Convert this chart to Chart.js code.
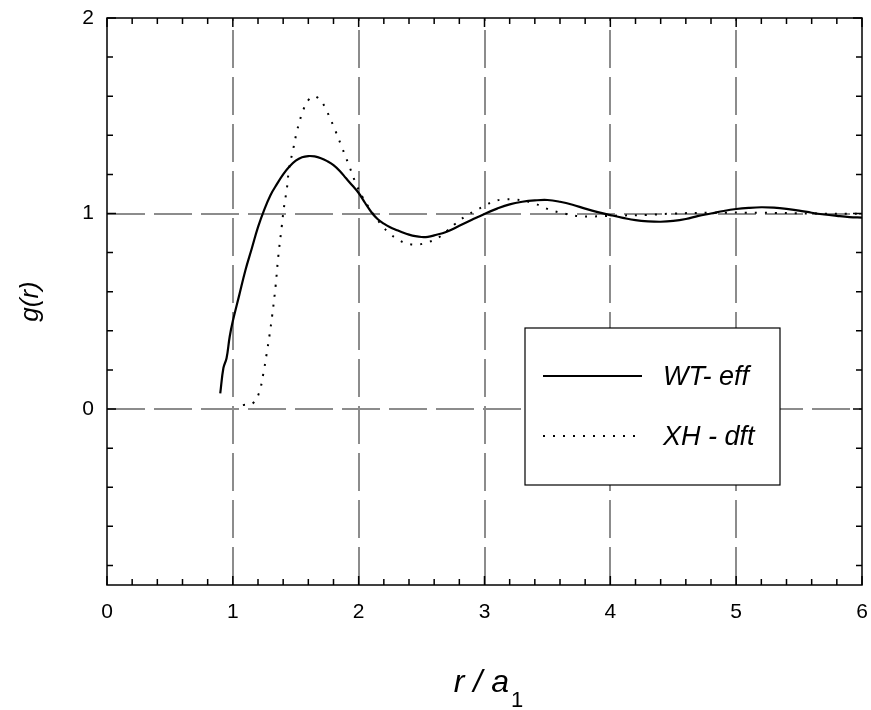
<!DOCTYPE html>
<html>
<head>
<meta charset="utf-8">
<title>g(r)</title>
<script src="https://cdn.jsdelivr.net/npm/chart.js@4.4.0/dist/chart.umd.min.js"></script>
<style>
  html, body { margin: 0; padding: 0; background: #fff; overflow: hidden; }
  canvas { display: block; }
</style>
</head>
<body>
<canvas id="myChart" width="871" height="710"></canvas>
<script>
// values (r / a1 , g(r))
const wtR = [0.90, 0.925, 0.95, 0.975, 1.00, 1.05, 1.10, 1.15, 1.20, 1.25, 1.30, 1.35, 1.40, 1.45, 1.50, 1.55, 1.60, 1.65, 1.70, 1.75, 1.80, 1.85, 1.90, 1.95, 2.00, 2.05, 2.10, 2.15, 2.20, 2.25, 2.30, 2.35, 2.40, 2.45, 2.50, 2.55, 2.60, 2.70, 2.80, 2.90, 3.00, 3.10, 3.20, 3.30, 3.40, 3.50, 3.60, 3.70, 3.80, 3.90, 4.00, 4.10, 4.20, 4.30, 4.40, 4.50, 4.60, 4.70, 4.80, 4.90, 5.00, 5.10, 5.20, 5.30, 5.40, 5.50, 5.60, 5.70, 5.80, 5.90, 6.00];
const wtG = [0.08, 0.21, 0.26, 0.37, 0.45, 0.58, 0.71, 0.82, 0.93, 1.02, 1.095, 1.15, 1.20, 1.24, 1.27, 1.288, 1.294, 1.292, 1.283, 1.268, 1.248, 1.218, 1.18, 1.143, 1.105, 1.055, 1.008, 0.972, 0.948, 0.93, 0.916, 0.903, 0.892, 0.884, 0.88, 0.881, 0.888, 0.907, 0.937, 0.968, 0.998, 1.025, 1.047, 1.06, 1.067, 1.069, 1.06, 1.045, 1.025, 1.007, 0.992, 0.978, 0.966, 0.96, 0.958, 0.962, 0.972, 0.988, 1.0, 1.013, 1.023, 1.029, 1.032, 1.03, 1.024, 1.015, 1.004, 0.995, 0.988, 0.982, 0.979];

const xhR = [1.08, 1.16, 1.207, 1.242, 1.268, 1.292, 1.313, 1.34, 1.361, 1.388, 1.406, 1.43, 1.447, 1.48, 1.513, 1.56, 1.60, 1.65, 1.70, 1.73, 1.80, 1.863, 1.924, 1.98, 2.03, 2.118, 2.176, 2.242, 2.32, 2.397, 2.473, 2.55, 2.63, 2.70, 2.772, 2.851, 2.925, 3.005, 3.079, 3.158, 3.238, 3.317, 3.397, 3.474, 3.548, 3.627, 3.707, 3.786, 3.86, 3.94, 4.09, 4.30, 4.50, 4.80, 5.20, 5.60, 6.00];
const xhG = [0.02, 0.03, 0.08, 0.18, 0.28, 0.38, 0.48, 0.63, 0.78, 0.93, 1.03, 1.13, 1.23, 1.33, 1.43, 1.53, 1.58, 1.60, 1.575, 1.546, 1.447, 1.345, 1.245, 1.15, 1.085, 0.995, 0.946, 0.90, 0.864, 0.844, 0.842, 0.853, 0.875, 0.91, 0.95, 0.987, 1.014, 1.04, 1.064, 1.072, 1.072, 1.065, 1.052, 1.03, 1.013, 1.001, 0.99, 0.985, 0.985, 0.987, 0.99, 0.993, 1.0, 1.004, 1.004, 1.0, 0.998];

const seriesNames = ['WT- eff', 'XH - dft'];
const xTicks = [0, 1, 2, 3, 4, 5, 6];
const yTicks = [0, 1, 2];
const xGrid = [1, 2, 3, 4, 5];
const yGrid = [0, 1];
const minorStep = 0.2;

function toPoints(rs, gs) {
  return rs.map((r, i) => ({ x: r, y: gs[i] }));
}

// keep tick labels from pushing the plot area in
function noLabelPadding(s) {
  s.paddingLeft = 0;
  s.paddingRight = 0;
  s.paddingTop = 0;
  s.paddingBottom = 0;
}

const decor = {
  id: 'decor',
  beforeDatasetsDraw(chart) {
    const { ctx, chartArea: a, scales: { x, y } } = chart;
    ctx.save();
    ctx.strokeStyle = '#8c8c8c';
    ctx.lineWidth = 2;
    ctx.setLineDash([38, 9]);
    xGrid.forEach(v => {
      const px = Math.round(x.getPixelForValue(v));
      ctx.beginPath();
      ctx.moveTo(px, a.bottom);
      ctx.lineTo(px, a.top);
      ctx.stroke();
    });
    yGrid.forEach(v => {
      const py = Math.round(y.getPixelForValue(v));
      ctx.beginPath();
      ctx.moveTo(a.left, py);
      ctx.lineTo(a.right, py);
      ctx.stroke();
    });
    ctx.restore();
  },
  afterDatasetsDraw(chart) {
    const { ctx, chartArea: a, scales: { x, y } } = chart;
    ctx.save();
    ctx.strokeStyle = '#000';
    ctx.lineWidth = 1.5;
    ctx.setLineDash([]);
    ctx.strokeRect(a.left, a.top, a.right - a.left, a.bottom - a.top);

    // inward ticks on all four sides
    ctx.beginPath();
    for (let v = x.min; v <= x.max + 1e-6; v += minorStep) {
      const major = Math.abs(v - Math.round(v)) < 1e-6;
      const len = major ? 9 : 6;
      const px = x.getPixelForValue(v);
      ctx.moveTo(px, a.bottom); ctx.lineTo(px, a.bottom - len);
      ctx.moveTo(px, a.top); ctx.lineTo(px, a.top + len);
    }
    for (let v = -0.8; v <= y.max + 1e-6; v += minorStep) {
      const major = Math.abs(v - Math.round(v)) < 1e-6;
      const len = major ? 9 : 6;
      const py = y.getPixelForValue(v);
      ctx.moveTo(a.left, py); ctx.lineTo(a.left + len, py);
      ctx.moveTo(a.right, py); ctx.lineTo(a.right - len, py);
    }
    ctx.stroke();

    // legend box
    const bx = 525, by = 328, bw = 255, bh = 157;
    ctx.fillStyle = '#fff';
    ctx.fillRect(bx, by, bw, bh);
    ctx.lineWidth = 1.2;
    ctx.strokeRect(bx, by, bw, bh);
    const ds = chart.data.datasets;
    const rows = [376, 436];
    ds.forEach((d, i) => {
      ctx.save();
      ctx.strokeStyle = d.borderColor;
      ctx.lineWidth = d.borderWidth;
      ctx.setLineDash(d.borderDash || []);
      ctx.beginPath();
      ctx.moveTo(543, rows[i]);
      ctx.lineTo(i === 0 ? 642 : 637, rows[i]);
      ctx.stroke();
      ctx.restore();
      ctx.fillStyle = '#000';
      ctx.font = 'italic 27px "Liberation Sans", Arial, sans-serif';
      ctx.textBaseline = 'middle';
      ctx.textAlign = 'left';
      ctx.fillText(d.label, 663, rows[i] + 1);
    });

    // x axis title with subscript
    const main = 'r / a', sub = '1';
    ctx.font = 'italic 32px "Liberation Sans", Arial, sans-serif';
    const w1 = ctx.measureText(main).width;
    ctx.font = '22px "Liberation Sans", Arial, sans-serif';
    const w2 = ctx.measureText(sub).width;
    const cx = (a.left + a.right) / 2 + 4;
    const sx = cx - (w1 + w2 + 2) / 2;
    ctx.fillStyle = '#000';
    ctx.textAlign = 'left';
    ctx.textBaseline = 'alphabetic';
    ctx.font = 'italic 32px "Liberation Sans", Arial, sans-serif';
    ctx.fillText(main, sx, 692);
    ctx.font = '22px "Liberation Sans", Arial, sans-serif';
    ctx.fillText(sub, sx + w1 + 2, 707);
    ctx.restore();
  }
};

const ctx = document.getElementById('myChart').getContext('2d');
const myChart = new Chart(ctx, {
  type: 'line',
  data: {
    datasets: [{
      label: seriesNames[0],
      data: toPoints(wtR, wtG),
      borderColor: '#000',
      borderWidth: 2.2,
      pointRadius: 0,
      fill: false,
      tension: 0.4
    }, {
      label: seriesNames[1],
      data: toPoints(xhR, xhG),
      borderColor: '#000',
      borderWidth: 2,
      borderDash: [2, 8],
      pointRadius: 0,
      fill: false,
      tension: 0.4
    }]
  },
  options: {
    responsive: false,
    animation: false,
    layout: { autoPadding: false, padding: { top: 18, right: 9, left: 0, bottom: 0 } },
    plugins: {
      legend: { display: false },
      tooltip: { enabled: false }
    },
    scales: {
      x: {
        type: 'linear',
        min: 0,
        max: 6,
        afterBuildTicks: s => { s.ticks = xTicks.map(v => ({ value: v })); },
        afterFit: s => { s.height = 125; noLabelPadding(s); },
        grid: { display: false, drawTicks: false, tickLength: 0 },
        border: { display: false },
        ticks: {
          padding: 15,
          color: '#000',
          maxRotation: 0,
          font: { family: '"Liberation Sans", Arial, sans-serif', size: 21 }
        }
      },
      y: {
        type: 'linear',
        min: -0.9,
        max: 2,
        afterBuildTicks: s => { s.ticks = yTicks.map(v => ({ value: v })); },
        afterFit: s => { s.width = 107; noLabelPadding(s); },
        grid: { display: false, drawTicks: false, tickLength: 0 },
        border: { display: false },
        title: {
          display: true,
          text: 'g(r)',
          color: '#000',
          padding: { top: 15, bottom: 0 },
          font: { family: '"Liberation Sans", Arial, sans-serif', size: 26, style: 'italic' }
        },
        ticks: {
          padding: 13,
          color: '#000',
          font: { family: '"Liberation Sans", Arial, sans-serif', size: 21 }
        }
      }
    }
  },
  plugins: [decor]
});
</script>
</body>
</html>
